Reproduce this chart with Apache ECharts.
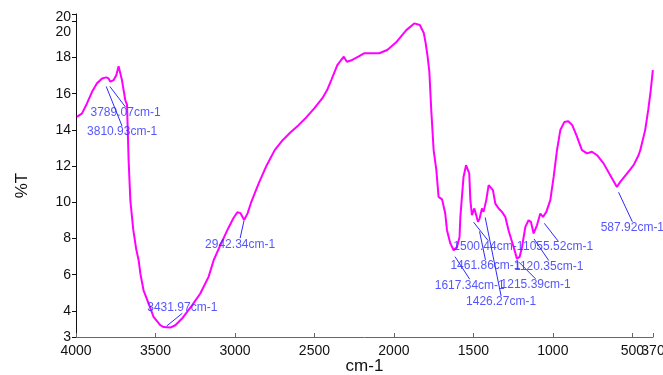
<!DOCTYPE html>
<html>
<head>
<meta charset="utf-8">
<script src="https://cdn.jsdelivr.net/npm/echarts@6/dist/echarts.min.js"></script>
<style>
  html, body { margin: 0; padding: 0; background: #fff; }
  #chart { width: 663px; height: 375px; }
</style>
</head>
<body>
<div id="chart"></div>
<script>
// spectrum (cm-1 -> %T)
const waveNumbers = [
  3994, 3962, 3931, 3899, 3868, 3836, 3810, 3795, 3784, 3763, 3746, 3732, 3721, 3711,
  3690, 3679, 3669, 3658, 3640, 3621, 3606, 3595, 3575, 3543, 3512, 3470, 3449, 3407,
  3375, 3333, 3270, 3218, 3166, 3134, 3092, 3042, 3010, 2985, 2965, 2942, 2920, 2900,
  2850, 2800, 2750, 2700, 2650, 2600, 2550, 2500, 2450, 2420, 2394, 2356, 2332, 2315,
  2296, 2262, 2224, 2188, 2092, 2042, 1982, 1922, 1872, 1837, 1812, 1800, 1788, 1777,
  1765, 1750, 1733, 1719, 1697, 1687, 1677, 1666, 1645, 1624, 1603, 1587, 1582, 1572,
  1562, 1546, 1536, 1526, 1519, 1509, 1494, 1482, 1471, 1461, 1446, 1436, 1419, 1404,
  1394, 1377, 1362, 1341, 1320, 1299, 1279, 1247, 1226, 1209, 1194, 1173, 1153, 1138,
  1121, 1100, 1079, 1062, 1041, 1016, 995, 974, 953, 928, 903, 878, 852, 817,
  785, 754, 722, 681, 639, 597, 576, 534, 492, 461, 450, 419, 400, 384, 371
];
const transmittance = [
  14.72, 14.91, 15.46, 16.1, 16.57, 16.84, 16.9, 16.84, 16.66, 16.75, 17.03, 17.52, 17.12, 16.75,
  15.65, 15.38, 12.33, 10.1, 8.5, 7.4, 6.8, 6.06, 5.14, 4.4, 3.67, 3.21, 3.11, 3.08,
  3.21, 3.58, 4.31, 4.96, 5.88, 6.8, 7.63, 8.57, 9.12, 9.45, 9.4, 9.02, 9.4, 9.95,
  11.06, 12.05, 12.88, 13.43, 13.87, 14.26, 14.7, 15.2, 15.75, 16.2, 16.75, 17.58, 17.86, 18.04,
  17.76, 17.86, 18.04, 18.23, 18.23, 18.41, 18.87, 19.51, 19.88, 19.79, 19.35, 18.78, 18.04, 17.21,
  15.09, 12.88, 11.78, 10.3, 10.16, 10.12, 9.38, 8.46, 7.73, 7.35, 7.53, 8.09, 9.19, 10.3,
  11.4, 12.05, 12.15, 11.59, 10.12, 9.29, 9.66, 9.75, 8.92, 9.1, 9.66, 9.47, 10.12, 10.95,
  11.04, 10.67, 9.93, 9.66, 9.47, 9.19, 8.46, 7.53, 6.89, 6.98, 7.53, 8.64, 9.01, 8.92,
  8.28, 8.73, 9.38, 9.19, 9.47, 10.12, 11.4, 12.88, 13.99, 14.43, 14.48, 14.26, 13.71, 12.88,
  12.7, 12.79, 12.6, 12.15, 11.5, 10.85, 11.13, 11.59, 12.05, 12.6, 12.88, 14.0, 15.1, 16.2, 17.3
];

// peak annotations
const peakWn = [3789.07, 3810.93, 3431.97, 2942.34, 1617.34, 1500.44, 1461.86, 1426.27, 1215.39, 1120.35, 1055.52, 587.92];
const peakT = [16.42, 16.42, 3.15, 9.01, 7.02, 8.92, 8.42, 9.19, 6.71, 8.0, 8.86, 10.58];
const peakText = ["3789.07cm-1", "3810.93cm-1", "3431.97cm-1", "2942.34cm-1", "1617.34cm-1", "1500.44cm-1",
  "1461.86cm-1", "1426.27cm-1", "1215.39cm-1", "1120.35cm-1", "1055.52cm-1", "587.92cm-1"];

// axis ticks (500 sits on its own axis so it is not dropped next to 370)
const xTicks = [4000, 3500, 3000, 2500, 2000, 1500, 1000, 500, 370];
const xTicksMain = [4000, 3500, 3000, 2500, 2000, 1500, 1000, 370];
const xTicksExtra = [500];
const yMin = 2.56, yMax = 20.4;
const yTicks = [yMin, 4, 6, 8, 10, 12, 14, 16, 18, 20, yMax];

// label offsets (px) from the peak point, styling only
const labelOffsets = [[16, 27], [16, 46], [16, -19], [-4, 24], [15, 29], [15, 25], [6, 35], [16, 85],
  [17, 23], [15, 28], [14, 24], [14, 36]];

const BLUE = "#2a2aff";
const FONT = "Liberation Sans";
const chart = echarts.init(document.getElementById("chart"));

const xBase = {
  type: "value",
  inverse: true,
  min: 370,
  max: 4000,
  position: "bottom",
  splitLine: { show: false }
};
const xLabelStyle = {
  showMinLabel: true,
  showMaxLabel: true,
  hideOverlap: false,
  margin: 7,
  fontFamily: FONT,
  fontSize: 14,
  color: "#111",
  formatter: (v) => String(v)
};

chart.setOption({
  animation: false,
  grid: { left: 76, right: 10, top: 14, bottom: 38, containLabel: false, outerBoundsMode: "none" },
  xAxis: [
    Object.assign({}, xBase, {
      name: "cm-1",
      nameLocation: "middle",
      nameGap: 21,
      nameMoveOverlap: false,
      nameTextStyle: { fontFamily: FONT, fontSize: 17, color: "#111" },
      axisLine: { lineStyle: { color: "#666", width: 1 } },
      axisTick: { inside: true, length: 4, customValues: xTicks, lineStyle: { color: "#666" } },
      axisLabel: Object.assign({ customValues: xTicksMain }, xLabelStyle)
    }),
    Object.assign({}, xBase, {
      axisLine: { show: false },
      axisTick: { show: false },
      axisLabel: Object.assign({ customValues: xTicksExtra }, xLabelStyle)
    })
  ],
  yAxis: {
    type: "value",
    min: yMin,
    max: yMax,
    name: "%T",
    nameLocation: "middle",
    nameGap: 45,
    nameMoveOverlap: false,
    nameRotate: 90,
    nameTextStyle: { fontFamily: FONT, fontSize: 17, color: "#111", padding: [0, 20, 0, 0] },
    axisLine: { show: true, lineStyle: { color: "#111", width: 1 } },
    axisTick: { show: true, length: 4, customValues: yTicks, lineStyle: { color: "#111" } },
    axisLabel: {
      customValues: yTicks,
      margin: 5,
      fontFamily: FONT,
      fontSize: 14,
      color: "#111",
      formatter: function (v) {
        const s = String(Math.round(v));
        if (v === 20) return "{lo|" + s + "}";
        if (v === yMax) return "{top|" + s + "}";
        return s;
      },
      rich: {
        lo: { fontFamily: FONT, fontSize: 14, color: "#111", padding: [22, 0, 0, 0] },
        top: { fontFamily: FONT, fontSize: 14, color: "#111", padding: [6, 0, 0, 0] }
      }
    },
    splitLine: { show: false }
  },
  series: [
    {
      type: "line",
      data: waveNumbers.map((w, i) => [w, transmittance[i]]),
      showSymbol: false,
      symbol: "none",
      lineStyle: { color: "#ff00ff", width: 2 },
      itemStyle: { color: "#ff00ff" },
      z: 2
    },
    {
      type: "scatter",
      data: peakWn.map((w, i) => [w, peakT[i]]),
      symbolSize: 1,
      itemStyle: { color: "rgba(0,0,0,0)" },
      label: {
        show: true,
        position: "inside",
        fontFamily: FONT,
        fontSize: 12,
        color: BLUE,
        formatter: (p) => peakText[p.dataIndex]
      },
      labelLayout: function (params) {
        const o = labelOffsets[params.dataIndex];
        return { dx: o[0], dy: o[1], hideOverlap: false };
      },
      labelLine: { show: true, lineStyle: { color: BLUE, width: 1 } },
      z: 3
    }
  ]
});
</script>
</body>
</html>
